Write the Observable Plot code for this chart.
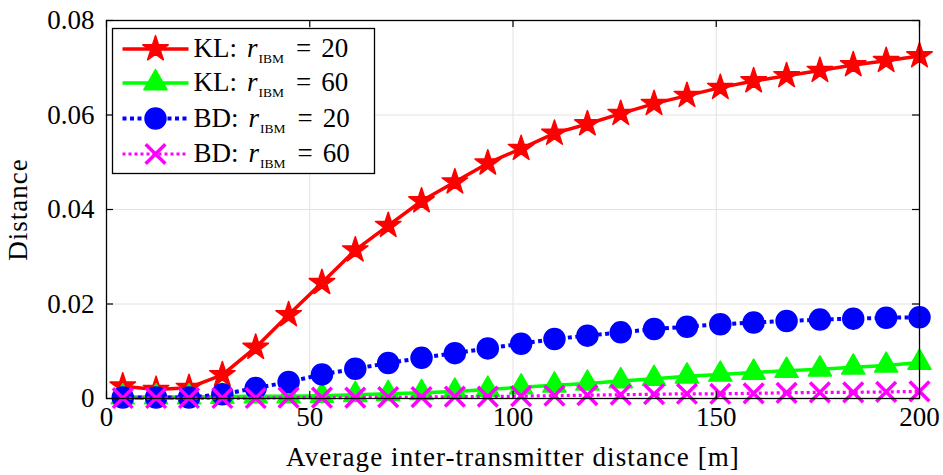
<!DOCTYPE html>
<html><head><meta charset="utf-8">
<script src="https://cdn.jsdelivr.net/npm/d3@7"></script>
<script src="https://cdn.jsdelivr.net/npm/@observablehq/plot@0.6"></script>
<style>
body{margin:0;background:#fff;}
#wrap{position:relative;width:943px;height:475px;}
#wrap svg text{font-family:'Liberation Serif','Times New Roman',serif;}
#wrap g[aria-label="x-axis label"] text{letter-spacing:1.1px;}
#wrap g[aria-label="y-axis label"] text{letter-spacing:1px;}
#legend{position:absolute;left:0;top:0;pointer-events:none;}
</style></head><body><div id="wrap"></div>
<script>
const distances = [4, 12.2, 20.3, 28.5, 36.7, 44.8, 53, 61.2, 69.3, 77.5, 85.7, 93.8, 102, 110.2, 118.3, 126.5, 134.7, 142.8, 151, 159.2, 167.3, 175.5, 183.7, 191.8, 200];
const klR20 = [0.0026, 0.0019, 0.0023, 0.0050, 0.0108, 0.0177, 0.0245, 0.0314, 0.0366, 0.0418, 0.0458, 0.0498, 0.0529, 0.0561, 0.0581, 0.0603, 0.0624, 0.0641, 0.0658, 0.0672, 0.0683, 0.0694, 0.0706, 0.0715, 0.0725];
const klR60 = [0.0003, 0.0003, 0.0003, 0.0004, 0.0005, 0.0005, 0.0006, 0.0008, 0.0010, 0.0012, 0.0015, 0.0019, 0.0024, 0.0028, 0.0032, 0.0037, 0.0042, 0.0047, 0.0051, 0.0055, 0.0059, 0.0062, 0.0066, 0.0070, 0.0076];
const bdR20 = [0.0002, 0.0002, 0.0002, 0.0009, 0.0022, 0.0035, 0.0051, 0.0063, 0.0075, 0.0086, 0.0096, 0.0106, 0.0116, 0.0126, 0.0133, 0.0140, 0.0147, 0.0152, 0.0157, 0.0161, 0.0164, 0.0167, 0.0169, 0.0171, 0.0172];
const bdR60 = [0.0001, 0.0001, 0.0001, 0.0001, 0.0001, 0.0002, 0.0002, 0.0002, 0.0003, 0.0003, 0.0004, 0.0004, 0.0005, 0.0006, 0.0007, 0.0008, 0.0009, 0.0010, 0.0010, 0.0011, 0.0012, 0.0013, 0.0013, 0.0014, 0.0015];
const xTicks = [0, 50, 100, 150, 200];
const yTicks = [0, 0.02, 0.04, 0.06, 0.08];
const seriesMetric = ["KL", "KL", "BD", "BD"];
const seriesR = [20, 60, 20, 60];
const xLabel = "Average inter-transmitter distance [m]";
const yLabel = "Distance";

const W = 943, H = 475;
const mL = 106, mR = 24, mT = 20, mB = 77;
const FONT = "'Liberation Serif', 'Times New Roman', serif";

const styles = [
  {color: "#ff0000", symbol: "star", r: 8, width: 3.5, dash: null, fill: true},
  {color: "#00ff00", symbol: "triangle", r: 8.6, width: 3.5, dash: null, fill: true},
  {color: "#0000ff", symbol: "circle", r: 10.5, width: 4, dash: "4 3.5", fill: true},
  {color: "#ff00ff", symbol: "times", r: 9, width: 3.2, dash: "3 3", fill: false}
];
const allSeries = [klR20, klR60, bdR20, bdR60];
const tables = allSeries.map(vals => distances.map((d, i) => ({x: d, y: vals[i]})));

const marks = [
  Plot.ruleX(xTicks, {stroke: "#e2e2e2", strokeWidth: 1}),
  Plot.ruleY(yTicks, {stroke: "#e2e2e2", strokeWidth: 1})
];
tables.forEach((t, k) => {
  const s = styles[k];
  marks.push(Plot.line(t, {x: "x", y: "y", stroke: s.color, strokeWidth: s.width, strokeDasharray: s.dash, strokeLinecap: "butt", strokeLinejoin: "round"}));
  marks.push(Plot.dot(t, s.fill
    ? {x: "x", y: "y", symbol: s.symbol, r: s.r, fill: s.color, stroke: s.color, strokeWidth: 1.5, strokeLinejoin: "round"}
    : {x: "x", y: "y", symbol: s.symbol, r: s.r, fill: "none", stroke: s.color, strokeWidth: 3.5}));
});
const plotH = H - mT - mB, plotW = W - mL - mR;
marks.push(
  Plot.tickX(xTicks, {x: d => d, insetTop: plotH - 7, stroke: "#000", strokeWidth: 1.2}),
  Plot.tickX(xTicks, {x: d => d, insetBottom: plotH - 7, stroke: "#000", strokeWidth: 1.2}),
  Plot.tickY(yTicks, {y: d => d, insetRight: plotW - 7, stroke: "#000", strokeWidth: 1.2}),
  Plot.tickY(yTicks, {y: d => d, insetLeft: plotW - 7, stroke: "#000", strokeWidth: 1.2}),
  Plot.frame({stroke: "#000", strokeWidth: 1.3}),
  Plot.axisX({ticks: xTicks, tickSize: 0, tickPadding: 8, label: xLabel, labelAnchor: "center", labelArrow: "none", labelOffset: 67, fontSize: 27, fontFamily: FONT}),
  Plot.axisY({ticks: yTicks, tickSize: 0, tickPadding: 12, tickFormat: d => d === 0 ? "0" : d.toFixed(2), label: yLabel, labelAnchor: "center", labelArrow: "none", labelOffset: 99, fontSize: 27, fontFamily: FONT})
);

const chart = Plot.plot({
  width: W, height: H,
  marginLeft: mL, marginRight: mR, marginTop: mT, marginBottom: mB,
  x: {domain: [0, 200]},
  y: {domain: [0, 0.08]},
  style: {fontFamily: FONT, fontSize: "27px", background: "#fff", color: "#000", overflow: "visible"},
  marks
});
const wrap = document.getElementById("wrap");
wrap.appendChild(chart);

// Legend overlay
const lg = d3.select(wrap).append("svg").attr("id", "legend").attr("width", W).attr("height", H)
  .style("font-family", FONT);
const bx = 112.5, by = 28.5, bw = 262, bh = 145;
lg.append("rect").attr("x", bx).attr("y", by).attr("width", bw).attr("height", bh)
  .attr("fill", "#fff").attr("stroke", "#000").attr("stroke-width", 1.3);
const rowY = [49, 83, 118.5, 154];
styles.forEach((s, k) => {
  const cy = rowY[k];
  lg.append("line").attr("x1", bx + 10).attr("x2", bx + 76).attr("y1", cy).attr("y2", cy)
    .attr("stroke", s.color).attr("stroke-width", s.width).attr("stroke-dasharray", s.dash);
  const sym = {star: d3.symbolStar, triangle: d3.symbolTriangle, circle: d3.symbolCircle, times: d3.symbolTimes}[s.symbol];
  const p = lg.append("path").attr("transform", `translate(${bx + 43},${cy})`)
    .attr("d", d3.symbol(sym, Math.PI * s.r * s.r)());
  if (s.fill) p.attr("fill", s.color).attr("stroke", s.color).attr("stroke-width", 1.5).attr("stroke-linejoin", "round");
  else p.attr("fill", "none").attr("stroke", s.color).attr("stroke-width", 3.5);
  const t = lg.append("text").attr("x", bx + 81).attr("y", cy + 8).attr("font-size", 27).attr("fill", "#000");
  t.append("tspan").text(seriesMetric[k] + ":");
  t.append("tspan").attr("dx", 10).attr("font-style", "italic").text("r");
  t.append("tspan").attr("dy", 6).attr("dx", 1).attr("font-size", 13.5).text("IBM");
  t.append("tspan").attr("dy", -6).attr("dx", 12).text("=");
  t.append("tspan").attr("dx", 10).text(String(seriesR[k]));
});
</script></body></html>
